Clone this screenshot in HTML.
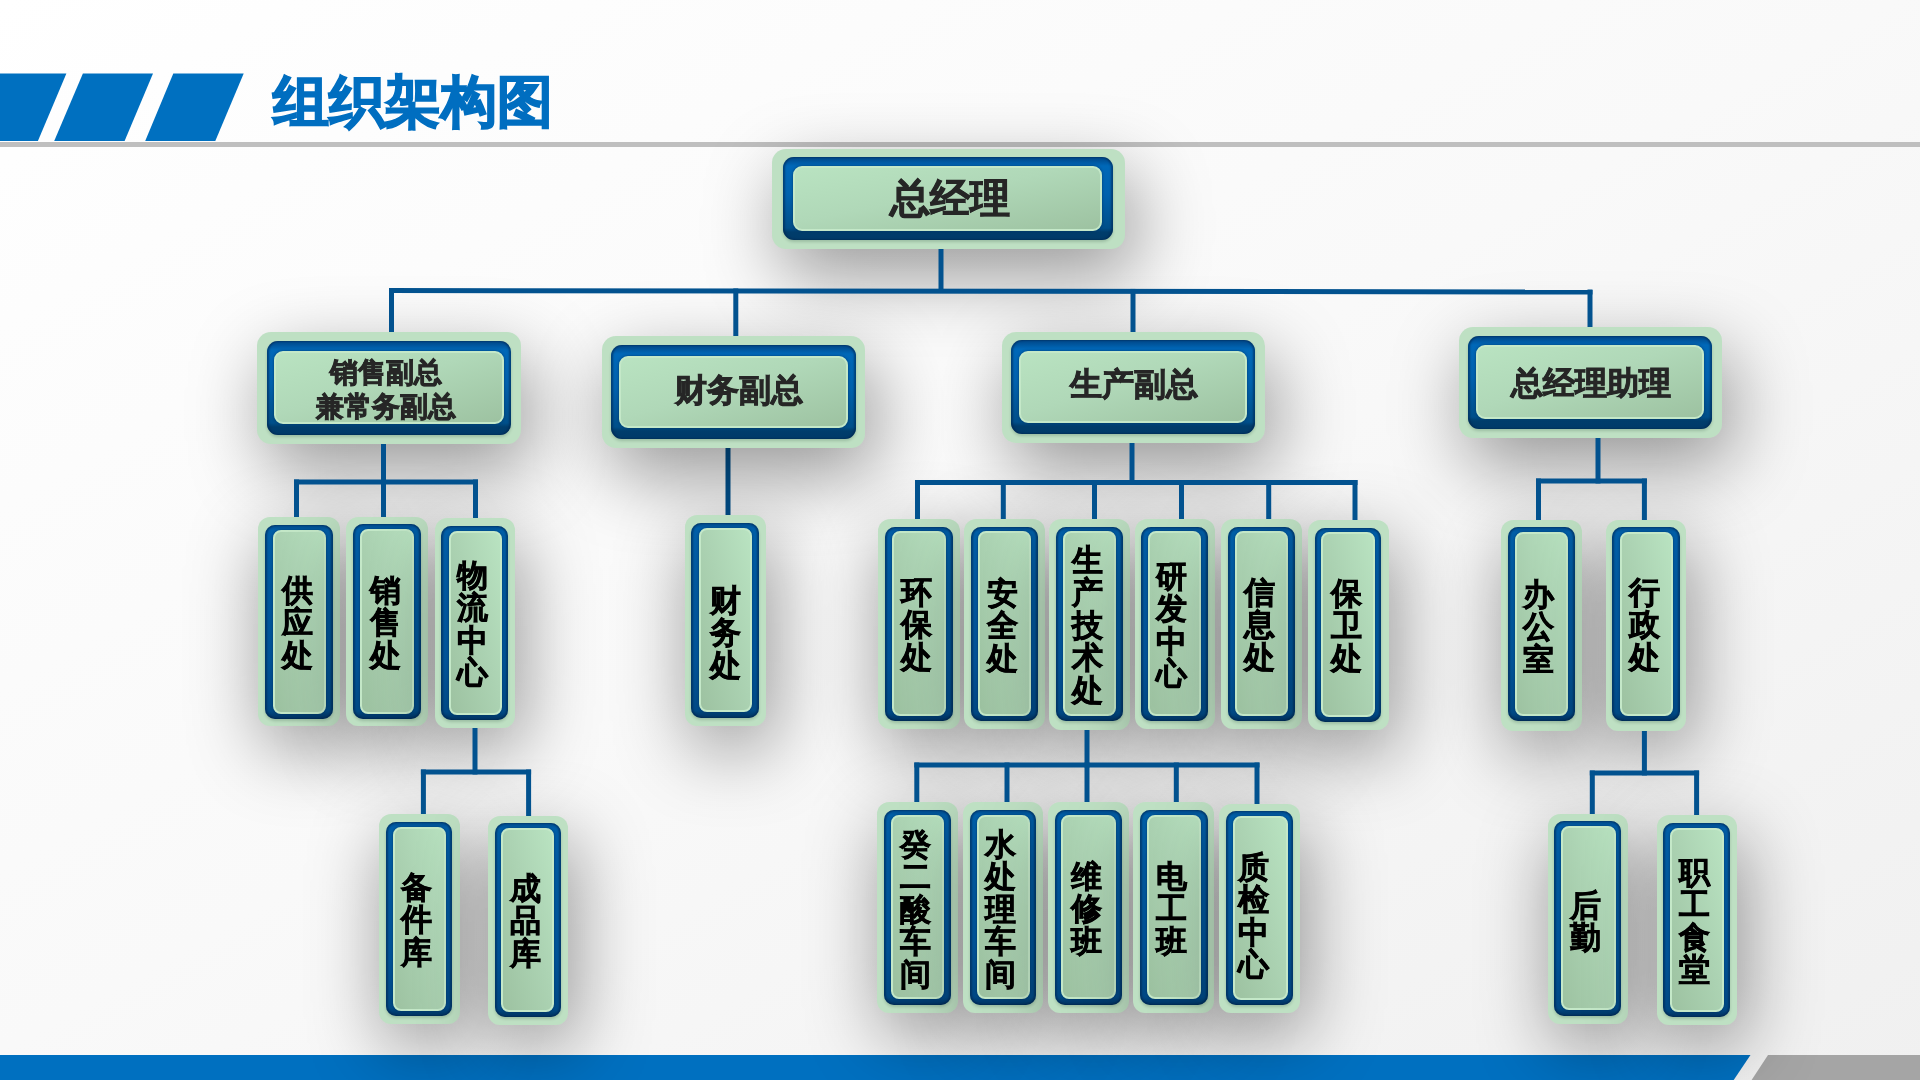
<!DOCTYPE html>
<html><head><meta charset="utf-8"><title>组织架构图</title>
<style>
*{margin:0;padding:0;box-sizing:border-box}
html,body{width:1920px;height:1080px;overflow:hidden}
body{position:relative;font-family:"Liberation Sans",sans-serif;background:linear-gradient(151deg,#ffffff 0%,#fdfdfd 15%,#f9f9f9 49%,#f3f3f3 82%,#f0f0f0 100%)}
.abs{position:absolute}
.shh{box-shadow:9px 26px 74px 0px rgba(0,0,0,0.40)}
.shv{box-shadow:6px 22px 74px 0px rgba(0,0,0,0.41)}
.gl{position:absolute;border-radius:14px;background:#bee0c3}
.bl{position:absolute;border-radius:11px;background:linear-gradient(180deg,#004585 0px,#0068b8 9px,#0062ae 45%,#004f8a calc(100% - 12px),#003d6c calc(100% - 8px),#003a68 100%);box-shadow:inset 2px 0 2px rgba(0,35,75,0.55),inset -2px 0 2px rgba(0,35,75,0.55),0 2px 3px rgba(0,40,20,0.18)}
.blv{border-radius:10px;background:linear-gradient(180deg,#004a8a 0px,#005fa8 5px,#00599e 30%,#005498 70%,#004a86 calc(100% - 8px),#00325f 100%)}
.in{position:absolute;border-radius:9px;background:linear-gradient(to bottom right,#b9e3c1 0%,#b0d8b8 45%,#9dc2a1 100%);border:2px solid #c4e8c8;box-shadow:0 0 2px 1px rgba(0,45,90,0.35)}
.inv{border-radius:8px;background:linear-gradient(to bottom left,#b9e3c1 0%,#acd3b3 45%,#9dc2a1 100%)}
.tx{position:absolute;will-change:transform;white-space:nowrap;font-weight:bold;color:#262626;-webkit-text-stroke:0.9px #262626;text-align:center}
.vt{position:absolute;will-change:transform;font-weight:bold;color:#000;-webkit-text-stroke:0.7px #000;text-align:center;width:40px}
.vt span{display:block}
</style></head><body>
<svg class="abs" style="left:0;top:0" width="1920" height="1080" viewBox="0 0 1920 1080">
<polygon points="0,73.5 66.4,73.5 37.9,141 0,141" fill="#0070c0"/>
<polygon points="82.9,73.5 153,73.5 124.6,141 54.2,141" fill="#0070c0"/>
<polygon points="173.3,73.5 243.7,73.5 215.3,141 145.2,141" fill="#0070c0"/>
<rect x="0" y="142" width="1920" height="5" fill="#bfbfbf"/>
<polygon points="0,1055 1750.5,1055 1733.7,1080 0,1080" fill="#0070c0"/>
<polygon points="1768,1055 1920,1055 1920,1080 1751.6,1080" fill="#a5a5a5"/>
</svg>
<div id="title" class="abs" style="left:273.0px;top:68.6px;font-size:56px;font-weight:bold;color:#006ec0;line-height:66px;white-space:nowrap;-webkit-text-stroke:1.6px #006ec0">组织架构图</div>
<svg class="abs" style="left:0;top:0" width="1920" height="1080" viewBox="0 0 1920 1080">
<line x1="728" y1="448" x2="728" y2="515" stroke="#02528f" stroke-width="5" stroke-linecap="butt"/>
</svg>
<div class="gl shh" style="left:772px;top:149px;width:353px;height:100px"></div>
<div class="bl" style="left:783px;top:157px;width:330px;height:83px"></div>
<div class="in" style="left:793px;top:166px;width:309px;height:65px"></div>
<div class="tx" style="left:799.5px;top:178.4px;width:300px;font-size:40px;line-height:1">总经理</div>
<div class="gl shh" style="left:257px;top:332px;width:264px;height:112px"></div>
<div class="bl" style="left:267px;top:341px;width:244px;height:94px"></div>
<div class="in" style="left:274px;top:351px;width:230px;height:73px"></div>
<div class="tx" style="left:236.2px;top:355.5px;width:300px;font-size:27.5px;line-height:1.23">销售副总<br>兼常务副总</div>
<div class="gl shh" style="left:602px;top:336px;width:263px;height:112px"></div>
<div class="bl" style="left:611px;top:345px;width:245px;height:94px"></div>
<div class="in" style="left:619px;top:356px;width:229px;height:72px"></div>
<div class="tx" style="left:588.5px;top:373.8px;width:300px;font-size:32px;line-height:1">财务副总</div>
<div class="gl shh" style="left:1002px;top:332px;width:263px;height:111px"></div>
<div class="bl" style="left:1011px;top:340px;width:244px;height:94px"></div>
<div class="in" style="left:1019px;top:351px;width:228px;height:72px"></div>
<div class="tx" style="left:983.9px;top:367.7px;width:300px;font-size:32px;line-height:1">生产副总</div>
<div class="gl shh" style="left:1459px;top:327px;width:263px;height:111px"></div>
<div class="bl" style="left:1468px;top:336px;width:244px;height:93px"></div>
<div class="in" style="left:1476px;top:345px;width:228px;height:74px"></div>
<div class="tx" style="left:1440.5px;top:367.1px;width:300px;font-size:32px;line-height:1">总经理助理</div>
<div class="gl shv" style="left:258px;top:517px;width:82px;height:209px;border-radius:12px"></div>
<div class="bl blv" style="left:265px;top:525px;width:68px;height:194px"></div>
<div class="in inv" style="left:273px;top:530px;width:53px;height:184px"></div>
<div class="vt" style="left:276.5px;top:575.4px;font-size:31px;line-height:32.4px"><span>供</span><span>应</span><span>处</span></div>
<div class="gl shv" style="left:346px;top:517px;width:82px;height:209px;border-radius:12px"></div>
<div class="bl blv" style="left:353px;top:524px;width:68px;height:195px"></div>
<div class="in inv" style="left:360px;top:529px;width:54px;height:185px"></div>
<div class="vt" style="left:364.9px;top:574.9px;font-size:31px;line-height:32.4px"><span>销</span><span>售</span><span>处</span></div>
<div class="gl shv" style="left:435px;top:518px;width:80px;height:210px;border-radius:12px"></div>
<div class="bl blv" style="left:441px;top:526px;width:67px;height:194px"></div>
<div class="in inv" style="left:449px;top:531px;width:53px;height:184px"></div>
<div class="vt" style="left:451.5px;top:559.7px;font-size:31px;line-height:32.4px"><span>物</span><span>流</span><span>中</span><span>心</span></div>
<div class="gl shv" style="left:685px;top:515px;width:81px;height:211px;border-radius:12px"></div>
<div class="bl blv" style="left:691px;top:523px;width:68px;height:195px"></div>
<div class="in inv" style="left:699px;top:528px;width:53px;height:184px"></div>
<div class="vt" style="left:705.1px;top:584.9px;font-size:31px;line-height:32.4px"><span>财</span><span>务</span><span>处</span></div>
<div class="gl shv" style="left:878px;top:519px;width:82px;height:210px;border-radius:12px"></div>
<div class="bl blv" style="left:885px;top:527px;width:68px;height:194px"></div>
<div class="in inv" style="left:892px;top:531px;width:54px;height:185px"></div>
<div class="vt" style="left:896.1px;top:577.0px;font-size:31px;line-height:32.4px"><span>环</span><span>保</span><span>处</span></div>
<div class="gl shv" style="left:964px;top:519px;width:81px;height:210px;border-radius:12px"></div>
<div class="bl blv" style="left:971px;top:527px;width:67px;height:194px"></div>
<div class="in inv" style="left:978px;top:531px;width:53px;height:185px"></div>
<div class="vt" style="left:981.5px;top:577.9px;font-size:31px;line-height:32.4px"><span>安</span><span>全</span><span>处</span></div>
<div class="gl shv" style="left:1049px;top:519px;width:81px;height:211px;border-radius:12px"></div>
<div class="bl blv" style="left:1056px;top:527px;width:67px;height:194px"></div>
<div class="in inv" style="left:1063px;top:531px;width:53px;height:185px"></div>
<div class="vt" style="left:1067.0px;top:545.0px;font-size:31px;line-height:32.4px"><span>生</span><span>产</span><span>技</span><span>术</span><span>处</span></div>
<div class="gl shv" style="left:1135px;top:519px;width:80px;height:210px;border-radius:12px"></div>
<div class="bl blv" style="left:1141px;top:527px;width:67px;height:194px"></div>
<div class="in inv" style="left:1148px;top:531px;width:53px;height:185px"></div>
<div class="vt" style="left:1151.4px;top:561.1px;font-size:31px;line-height:32.4px"><span>研</span><span>发</span><span>中</span><span>心</span></div>
<div class="gl shv" style="left:1221px;top:519px;width:81px;height:210px;border-radius:12px"></div>
<div class="bl blv" style="left:1228px;top:527px;width:67px;height:194px"></div>
<div class="in inv" style="left:1235px;top:531px;width:53px;height:185px"></div>
<div class="vt" style="left:1239.0px;top:576.8px;font-size:31px;line-height:32.4px"><span>信</span><span>息</span><span>处</span></div>
<div class="gl shv" style="left:1308px;top:520px;width:81px;height:210px;border-radius:12px"></div>
<div class="bl blv" style="left:1315px;top:528px;width:66px;height:194px"></div>
<div class="in inv" style="left:1321px;top:532px;width:54px;height:185px"></div>
<div class="vt" style="left:1325.6px;top:578.0px;font-size:31px;line-height:32.4px"><span>保</span><span>卫</span><span>处</span></div>
<div class="gl shv" style="left:1501px;top:520px;width:81px;height:211px;border-radius:12px"></div>
<div class="bl blv" style="left:1508px;top:527px;width:67px;height:194px"></div>
<div class="in inv" style="left:1515px;top:532px;width:53px;height:184px"></div>
<div class="vt" style="left:1518.3px;top:578.5px;font-size:31px;line-height:32.4px"><span>办</span><span>公</span><span>室</span></div>
<div class="gl shv" style="left:1606px;top:520px;width:80px;height:211px;border-radius:12px"></div>
<div class="bl blv" style="left:1612px;top:527px;width:68px;height:194px"></div>
<div class="in inv" style="left:1620px;top:532px;width:53px;height:184px"></div>
<div class="vt" style="left:1624.0px;top:577.3px;font-size:31px;line-height:32.4px"><span>行</span><span>政</span><span>处</span></div>
<div class="gl shv" style="left:379px;top:814px;width:81px;height:210px;border-radius:12px"></div>
<div class="bl blv" style="left:386px;top:822px;width:66px;height:194px"></div>
<div class="in inv" style="left:393px;top:827px;width:53px;height:184px"></div>
<div class="vt" style="left:396.3px;top:871.7px;font-size:31px;line-height:32.4px"><span>备</span><span>件</span><span>库</span></div>
<div class="gl shv" style="left:488px;top:816px;width:80px;height:209px;border-radius:12px"></div>
<div class="bl blv" style="left:495px;top:823px;width:66px;height:194px"></div>
<div class="in inv" style="left:501px;top:828px;width:53px;height:184px"></div>
<div class="vt" style="left:505.3px;top:873.1px;font-size:31px;line-height:32.4px"><span>成</span><span>品</span><span>库</span></div>
<div class="gl shv" style="left:877px;top:802px;width:81px;height:211px;border-radius:12px"></div>
<div class="bl blv" style="left:884px;top:810px;width:67px;height:195px"></div>
<div class="in inv" style="left:891px;top:815px;width:53px;height:184px"></div>
<div class="vt" style="left:895.3px;top:828.5px;font-size:31px;line-height:32.4px"><span>癸</span><span>二</span><span>酸</span><span>车</span><span>间</span></div>
<div class="gl shv" style="left:963px;top:802px;width:80px;height:211px;border-radius:12px"></div>
<div class="bl blv" style="left:970px;top:810px;width:66px;height:195px"></div>
<div class="in inv" style="left:977px;top:815px;width:53px;height:184px"></div>
<div class="vt" style="left:980.0px;top:828.5px;font-size:31px;line-height:32.4px"><span>水</span><span>处</span><span>理</span><span>车</span><span>间</span></div>
<div class="gl shv" style="left:1048px;top:802px;width:81px;height:211px;border-radius:12px"></div>
<div class="bl blv" style="left:1055px;top:810px;width:67px;height:195px"></div>
<div class="in inv" style="left:1061px;top:815px;width:55px;height:184px"></div>
<div class="vt" style="left:1066.1px;top:860.7px;font-size:31px;line-height:32.4px"><span>维</span><span>修</span><span>班</span></div>
<div class="gl shv" style="left:1133px;top:802px;width:81px;height:211px;border-radius:12px"></div>
<div class="bl blv" style="left:1140px;top:810px;width:68px;height:195px"></div>
<div class="in inv" style="left:1147px;top:815px;width:54px;height:184px"></div>
<div class="vt" style="left:1150.8px;top:860.7px;font-size:31px;line-height:32.4px"><span>电</span><span>工</span><span>班</span></div>
<div class="gl shv" style="left:1219px;top:804px;width:81px;height:209px;border-radius:12px"></div>
<div class="bl blv" style="left:1226px;top:811px;width:67px;height:194px"></div>
<div class="in inv" style="left:1233px;top:816px;width:55px;height:184px"></div>
<div class="vt" style="left:1233.4px;top:852.4px;font-size:31px;line-height:32.4px"><span>质</span><span>检</span><span>中</span><span>心</span></div>
<div class="gl shv" style="left:1548px;top:814px;width:80px;height:210px;border-radius:12px"></div>
<div class="bl blv" style="left:1554px;top:821px;width:67px;height:195px"></div>
<div class="in inv" style="left:1561px;top:826px;width:55px;height:184px"></div>
<div class="vt" style="left:1565.4px;top:890.2px;font-size:31px;line-height:32.4px"><span>后</span><span>勤</span></div>
<div class="gl shv" style="left:1657px;top:815px;width:80px;height:210px;border-radius:12px"></div>
<div class="bl blv" style="left:1663px;top:823px;width:67px;height:194px"></div>
<div class="in inv" style="left:1670px;top:828px;width:54px;height:184px"></div>
<div class="vt" style="left:1673.5px;top:856.6px;font-size:31px;line-height:32.4px"><span>职</span><span>工</span><span>食</span><span>堂</span></div>
<svg class="abs" style="left:0;top:0" width="1920" height="1080" viewBox="0 0 1920 1080">
<line x1="941" y1="249" x2="941" y2="293.0" stroke="#02528f" stroke-width="5" stroke-linecap="butt"/>
<line x1="389.0" y1="290.5" x2="1592.5" y2="292" stroke="#02528f" stroke-width="5" stroke-linecap="butt"/>
<line x1="391.5" y1="288.0" x2="391.5" y2="332" stroke="#02528f" stroke-width="5" stroke-linecap="butt"/>
<line x1="735.8" y1="288.4309136420526" x2="735.8" y2="336" stroke="#02528f" stroke-width="5" stroke-linecap="butt"/>
<line x1="1133" y1="288.92803504380475" x2="1133" y2="332" stroke="#02528f" stroke-width="5" stroke-linecap="butt"/>
<line x1="1590" y1="289.5" x2="1590" y2="327" stroke="#02528f" stroke-width="5" stroke-linecap="butt"/>
<line x1="383.5" y1="444" x2="383.5" y2="484.5" stroke="#02528f" stroke-width="5" stroke-linecap="butt"/>
<line x1="294.0" y1="482" x2="478.0" y2="482" stroke="#02528f" stroke-width="5" stroke-linecap="butt"/>
<line x1="296.5" y1="479.5" x2="296.5" y2="517" stroke="#02528f" stroke-width="5" stroke-linecap="butt"/>
<line x1="383.5" y1="479.5" x2="383.5" y2="517" stroke="#02528f" stroke-width="5" stroke-linecap="butt"/>
<line x1="475.5" y1="479.5" x2="475.5" y2="518" stroke="#02528f" stroke-width="5" stroke-linecap="butt"/>
<line x1="1132" y1="443" x2="1132" y2="485.0" stroke="#02528f" stroke-width="5" stroke-linecap="butt"/>
<line x1="915.0" y1="482.5" x2="1357.5" y2="482.5" stroke="#02528f" stroke-width="5" stroke-linecap="butt"/>
<line x1="917.5" y1="480.0" x2="917.5" y2="519" stroke="#02528f" stroke-width="5" stroke-linecap="butt"/>
<line x1="1003.3" y1="480.0" x2="1003.3" y2="519" stroke="#02528f" stroke-width="5" stroke-linecap="butt"/>
<line x1="1094.5" y1="480.0" x2="1094.5" y2="519" stroke="#02528f" stroke-width="5" stroke-linecap="butt"/>
<line x1="1181.5" y1="480.0" x2="1181.5" y2="519" stroke="#02528f" stroke-width="5" stroke-linecap="butt"/>
<line x1="1268.7" y1="480.0" x2="1268.7" y2="519" stroke="#02528f" stroke-width="5" stroke-linecap="butt"/>
<line x1="1355" y1="480.0" x2="1355" y2="520" stroke="#02528f" stroke-width="5" stroke-linecap="butt"/>
<line x1="1598" y1="438" x2="1598" y2="483.5" stroke="#02528f" stroke-width="5" stroke-linecap="butt"/>
<line x1="1536.0" y1="481" x2="1646.9" y2="481" stroke="#02528f" stroke-width="5" stroke-linecap="butt"/>
<line x1="1538.5" y1="478.5" x2="1538.5" y2="520" stroke="#02528f" stroke-width="5" stroke-linecap="butt"/>
<line x1="1644.4" y1="478.5" x2="1644.4" y2="520" stroke="#02528f" stroke-width="5" stroke-linecap="butt"/>
<line x1="475" y1="728" x2="475" y2="774.5" stroke="#02528f" stroke-width="5" stroke-linecap="butt"/>
<line x1="420.9" y1="772" x2="531.1" y2="772" stroke="#02528f" stroke-width="5" stroke-linecap="butt"/>
<line x1="423.4" y1="769.5" x2="423.4" y2="814" stroke="#02528f" stroke-width="5" stroke-linecap="butt"/>
<line x1="528.6" y1="769.5" x2="528.6" y2="816" stroke="#02528f" stroke-width="5" stroke-linecap="butt"/>
<line x1="1087" y1="730" x2="1087" y2="767.5" stroke="#02528f" stroke-width="5" stroke-linecap="butt"/>
<line x1="914.3" y1="765" x2="1259.5" y2="765" stroke="#02528f" stroke-width="5" stroke-linecap="butt"/>
<line x1="916.8" y1="762.5" x2="916.8" y2="802" stroke="#02528f" stroke-width="5" stroke-linecap="butt"/>
<line x1="1007" y1="762.5" x2="1007" y2="802" stroke="#02528f" stroke-width="5" stroke-linecap="butt"/>
<line x1="1087" y1="762.5" x2="1087" y2="802" stroke="#02528f" stroke-width="5" stroke-linecap="butt"/>
<line x1="1176.3" y1="762.5" x2="1176.3" y2="802" stroke="#02528f" stroke-width="5" stroke-linecap="butt"/>
<line x1="1257" y1="762.5" x2="1257" y2="804" stroke="#02528f" stroke-width="5" stroke-linecap="butt"/>
<line x1="1644.4" y1="731" x2="1644.4" y2="775.5" stroke="#02528f" stroke-width="5" stroke-linecap="butt"/>
<line x1="1589.8" y1="773" x2="1699.1" y2="773" stroke="#02528f" stroke-width="5" stroke-linecap="butt"/>
<line x1="1592.3" y1="770.5" x2="1592.3" y2="814" stroke="#02528f" stroke-width="5" stroke-linecap="butt"/>
<line x1="1696.6" y1="770.5" x2="1696.6" y2="815" stroke="#02528f" stroke-width="5" stroke-linecap="butt"/>
</svg>
</body></html>
